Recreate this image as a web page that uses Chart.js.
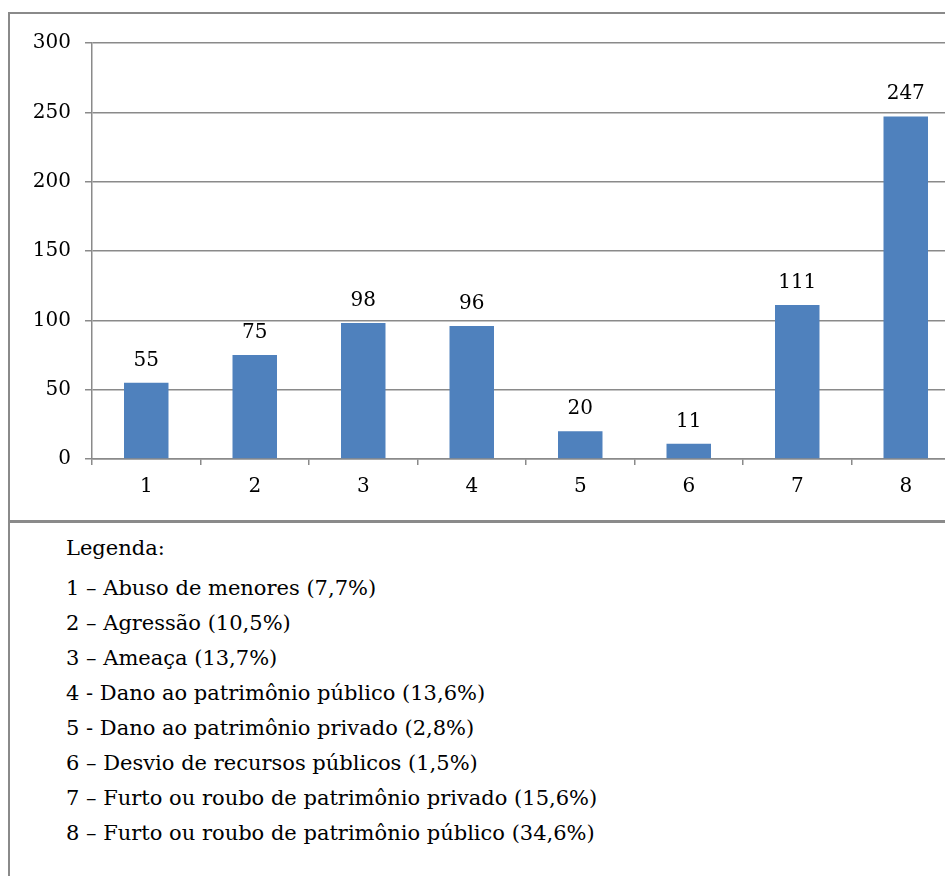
<!DOCTYPE html>
<html>
<head>
<meta charset="utf-8">
<script src="https://cdn.jsdelivr.net/npm/chart.js@4.4.1/dist/chart.umd.min.js"></script>
<style>
  html, body { margin: 0; padding: 0; background: #fff; overflow: hidden; width: 945px; height: 876px; }
  #chartBox { position: absolute; left: 8px; top: 12px; width: 1000px; height: 506px; border: 2px solid #8a8a8a; }
  #chartWrap { position: absolute; left: 0; top: 0; width: 980px; height: 520px; }
  #legendBox { position: absolute; left: 8px; top: 521px; width: 1000px; height: 400px; border: 2px solid #8a8a8a; }
  #legendText { position: absolute; left: 66px; top: 531px; font-family: "DejaVu Serif", serif; font-size: 21px; line-height: 35px; color: #000; white-space: nowrap; }
  #legendText .title { margin-bottom: 5px; }
</style>
</head>
<body>
<div id="chartBox"></div>
<div id="legendBox"></div>
<div id="chartWrap"><canvas id="chart" width="980" height="520"></canvas></div>
<div id="legendText"></div>
<script>
const categories = ['1', '2', '3', '4', '5', '6', '7', '8'];
const values = [55, 75, 98, 96, 20, 11, 111, 247];
const yTicks = [0, 50, 100, 150, 200, 250, 300];
const legendTitle = 'Legenda:';
const legendItems = [
  '1 – Abuso de menores (7,7%)',
  '2 – Agressão (10,5%)',
  '3 – Ameaça (13,7%)',
  '4 - Dano ao patrimônio público (13,6%)',
  '5 - Dano ao patrimônio privado (2,8%)',
  '6 – Desvio de recursos públicos (1,5%)',
  '7 – Furto ou roubo de patrimônio privado (15,6%)',
  '8 – Furto ou roubo de patrimônio público (34,6%)'
];

const legendEl = document.getElementById('legendText');
const t = document.createElement('div');
t.className = 'title';
t.textContent = legendTitle;
legendEl.appendChild(t);
legendItems.forEach(function (s) {
  const d = document.createElement('div');
  d.textContent = s;
  legendEl.appendChild(d);
});

const fontFamily = '"DejaVu Serif", serif';
const gridColor = '#8a8a8a';

const valueLabels = {
  id: 'valueLabels',
  afterDatasetsDraw(chart) {
    const ctx = chart.ctx;
    const meta = chart.getDatasetMeta(0);
    ctx.save();
    ctx.font = '20px ' + fontFamily;
    ctx.fillStyle = '#000';
    ctx.textAlign = 'center';
    ctx.textBaseline = 'alphabetic';
    meta.data.forEach(function (bar, i) {
      ctx.fillText(String(values[i]), bar.x, bar.y - 17);
    });
    ctx.restore();
  }
};

new Chart(document.getElementById('chart'), {
  type: 'bar',
  data: {
    labels: categories,
    datasets: [{
      data: values,
      backgroundColor: '#4f81bd',
      borderWidth: 0,
      barPercentage: 0.41,
      categoryPercentage: 1
    }]
  },
  options: {
    responsive: false,
    animation: false,
    events: [],
    layout: { padding: { left: 0, right: 20, top: 43, bottom: 0 } },
    plugins: {
      legend: { display: false },
      tooltip: { enabled: false }
    },
    scales: {
      x: {
        afterFit(scale) { scale.height = 61; },
        grid: {
          offset: true,
          drawOnChartArea: false,
          drawTicks: true,
          tickLength: 6,
          color: gridColor,
          lineWidth: 1.5
        },
        border: { color: gridColor, width: 1.5 },
        ticks: {
          color: '#000',
          padding: 10,
          font: { family: fontFamily, size: 20 }
        }
      },
      y: {
        min: 0,
        max: 300,
        afterFit(scale) { scale.width = 92; },
        afterBuildTicks(scale) { scale.ticks = yTicks.map(function (v) { return { value: v }; }); },
        grid: {
          color: gridColor,
          lineWidth: 1.5,
          tickLength: 7
        },
        border: { color: gridColor, width: 1.5 },
        ticks: {
          color: '#000',
          padding: 14,
          font: { family: fontFamily, size: 20 }
        }
      }
    }
  },
  plugins: [valueLabels]
});
</script>
</body>
</html>
